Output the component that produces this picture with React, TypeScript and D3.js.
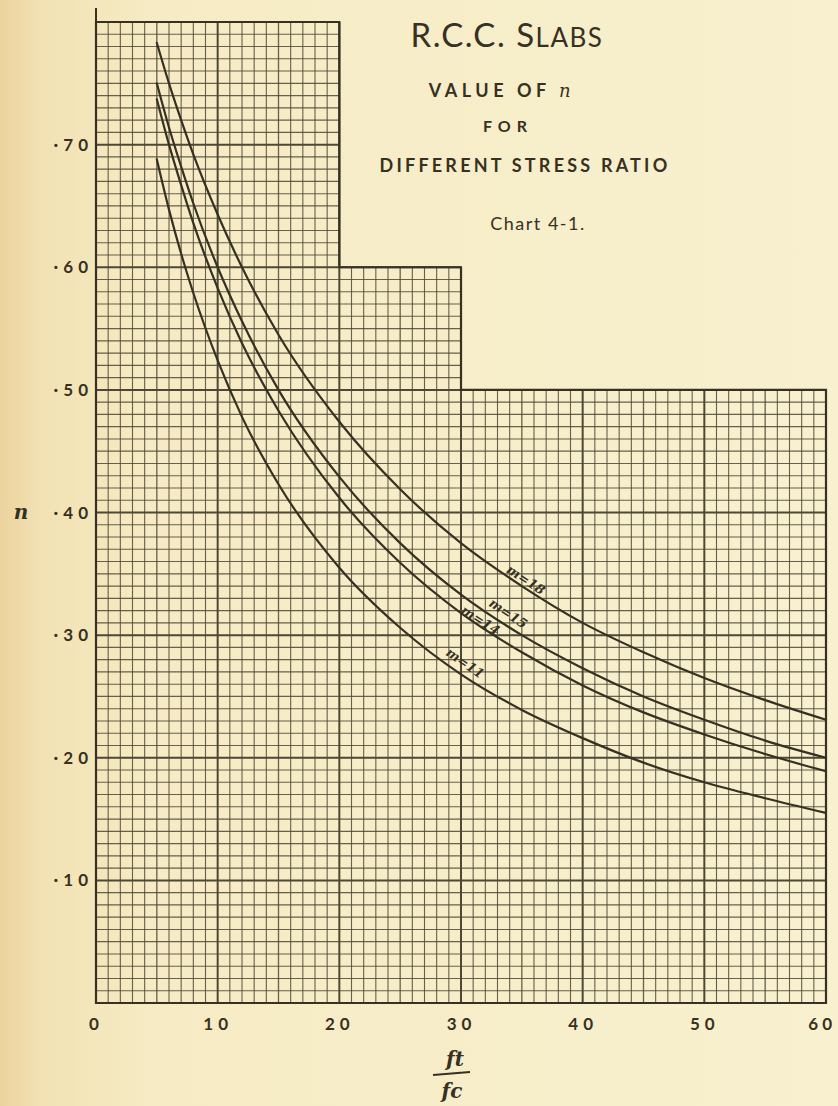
import React from "react";
import * as d3 from "d3";

// Stress ratio ft/fc sampled along each curve
const STRESS_RATIO = [5, 6, 7, 8, 10, 12, 15, 20, 25, 30, 35, 40, 45, 50, 55, 60];

// Neutral axis factor n for each modular ratio m
const N_M18 = [0.783, 0.75, 0.72, 0.692, 0.643, 0.6, 0.545, 0.474, 0.419, 0.375, 0.34, 0.31, 0.286, 0.265, 0.247, 0.231];
const N_M15 = [0.75, 0.714, 0.682, 0.652, 0.6, 0.556, 0.5, 0.429, 0.375, 0.333, 0.3, 0.273, 0.25, 0.231, 0.214, 0.2];
const N_M14 = [0.737, 0.7, 0.667, 0.636, 0.583, 0.538, 0.483, 0.412, 0.359, 0.318, 0.286, 0.259, 0.237, 0.219, 0.203, 0.189];
const N_M11 = [0.688, 0.647, 0.611, 0.579, 0.524, 0.478, 0.423, 0.355, 0.306, 0.268, 0.239, 0.216, 0.196, 0.18, 0.167, 0.155];

const CURVE_LABELS = ["m=18", "m=15", "m=14", "m=11"];
const LABEL_AT = [35.0, 33.4, 31.4, 29.8];
const LABEL_LIFT = [-3, -6, 0, -7];

const X_TICKS = [0, 10, 20, 30, 40, 50, 60];
const Y_TICKS = [0.1, 0.2, 0.3, 0.4, 0.5, 0.6, 0.7];
const Y_TICK_LABELS = ["·10", "·20", "·30", "·40", "·50", "·60", "·70"];

// Stepped top of the ruled sheet: [x from, x to, top n]
const SHEET_STEPS: [number, number, number][] = [
  [0, 20, 0.8],
  [20, 30, 0.6],
  [30, 60, 0.5],
];

const W = 838;
const H = 1106;
const INK = "#363122";
const GRID = "#4d4835";

export default function App() {
  const x = d3.scaleLinear().domain([0, 60]).range([96, 826]);
  const y = d3.scaleLinear().domain([0, 0.8]).range([1003, 22]);

  const topAt = (xv: number) => {
    for (const [a, b, t] of SHEET_STEPS) if (xv <= b + 1e-9 && xv >= a - 1e-9) return t;
    return 0.5;
  };
  const rightAt = (yv: number) => {
    let r = 0;
    for (const [, b, t] of SHEET_STEPS) if (yv <= t + 1e-9) r = Math.max(r, b);
    return r;
  };

  const vLines = d3.range(0, 61).map((v) => ({ v, major: v % 10 === 0 }));
  const hLines = d3.range(0, 81).map((i) => ({ v: i / 100, i, major: i % 10 === 0 }));

  // outline of the stepped sheet
  const outline: [number, number][] = [[0, 0], [0, 0.8]];
  SHEET_STEPS.forEach(([a, b, t], i) => {
    if (i > 0) outline.push([a, t]);
    outline.push([b, t]);
  });
  outline.push([60, 0]);
  const outlinePath = d3.line<[number, number]>().x((d) => x(d[0])).y((d) => y(d[1]))(outline) + "Z";

  const series = [N_M18, N_M15, N_M14, N_M11];
  const line = d3
    .line<number>()
    .x((_, i) => x(STRESS_RATIO[i]))
    .y((d) => y(d))
    .curve(d3.curveMonotoneX);

  const labels = series.map((vals, k) => {
    const interp = d3.scaleLinear().domain(STRESS_RATIO).range(vals);
    const xv = LABEL_AT[k];
    const px = x(xv);
    const py = y(interp(xv));
    const dx = x(xv + 1) - x(xv - 1);
    const dy = y(interp(xv + 1)) - y(interp(xv - 1));
    const ang = (Math.atan2(dy, dx) * 180) / Math.PI;
    return { text: CURVE_LABELS[k], px, py, ang, lift: LABEL_LIFT[k] };
  });

  const minorW = 1.1;
  const xSpacing = 5;
  const ySpacing = 5;

  return (
    <svg
      width={W}
      height={H}
      viewBox={`0 0 ${W} ${H}`}
      style={{ position: "absolute", left: 0, top: 0, display: "block" }}
    >
      <defs>
        <linearGradient id="paper" x1="0" x2="1" y1="0" y2="0">
          <stop offset="0" stopColor="#ebd39e" />
          <stop offset="0.05" stopColor="#f2e2b4" />
          <stop offset="0.18" stopColor="#f6ebc4" />
          <stop offset="1" stopColor="#f8f0cf" />
        </linearGradient>
      </defs>
      <rect x={0} y={0} width={W} height={H} fill="url(#paper)" />

      {/* ruled sheet */}
      <g stroke={GRID} fill="none">
        {vLines.map(({ v, major }) => (
          <line
            key={"v" + v}
            x1={x(v)}
            x2={x(v)}
            y1={y(0)}
            y2={y(topAt(v))}
            strokeWidth={major ? 2 : v % 5 === 0 ? 1.3 : minorW}
            strokeOpacity={major ? 1 : 0.85}
          />
        ))}
        {hLines.map(({ v, i, major }) => (
          <line
            key={"h" + i}
            x1={x(0)}
            x2={x(rightAt(v))}
            y1={y(v)}
            y2={y(v)}
            strokeWidth={major ? 2 : i % 5 === 0 ? 1.3 : minorW}
            strokeOpacity={major ? 1 : 0.85}
          />
        ))}
        <path d={outlinePath} stroke={INK} strokeWidth={2.2} />
        <line x1={x(0)} x2={x(0)} y1={y(0.8)} y2={y(0.8) - 14} stroke={INK} strokeWidth={2} />
      </g>

      {/* curves */}
      <g fill="none" stroke={INK} strokeWidth={2.2} strokeLinecap="round">
        {series.map((vals, k) => (
          <path key={k} d={line(vals) || ""} />
        ))}
      </g>

      {/* curve labels */}
      <g
        fill={INK}
        fontFamily="'DejaVu Serif', serif"
        fontStyle="italic"
        fontWeight={700}
        fontSize={13}
      >
        {labels.map((l) => (
          <text
            key={l.text}
            transform={`translate(${l.px},${l.py}) rotate(${l.ang}) translate(0,${l.lift})`}
            textAnchor="middle"
          >
            {l.text}
          </text>
        ))}
      </g>

      {/* axis tick labels */}
      <g fill={INK} fontFamily="Lato, 'Open Sans', sans-serif" fontWeight={700} fontSize={17}>
        {Y_TICKS.map((t, i) => (
          <text key={t} x={88 + ySpacing} y={y(t)} dy="0.36em" textAnchor="end" letterSpacing={ySpacing}>
            {Y_TICK_LABELS[i]}
          </text>
        ))}
        {X_TICKS.map((t, i) =>
          i === X_TICKS.length - 1 ? (
            <text key={t} x={836} y={1030} textAnchor="end" letterSpacing={xSpacing - 1}>
              {t}
            </text>
          ) : (
            <text key={t} x={x(t) + xSpacing / 2 - 2} y={1030} textAnchor="middle" letterSpacing={xSpacing}>
              {t}
            </text>
          )
        )}
      </g>

      {/* axis titles */}
      <text x={21} y={y(0.4)} dy="0.32em" textAnchor="middle" fill={INK}
        fontFamily="'DejaVu Serif', serif" fontStyle="italic" fontWeight={700} fontSize={20}>
        n
      </text>
      <g fill={INK} fontFamily="'DejaVu Serif', serif" fontStyle="italic" fontWeight={700} fontSize={20}>
        <text x={455} y={1066} textAnchor="middle">ft</text>
        <line x1={433} x2={470} y1={1075} y2={1072} stroke={INK} strokeWidth={2} />
        <text x={452} y={1098} textAnchor="middle">fc</text>
      </g>

      {/* title block */}
      <g fill={INK} fontFamily="Lato, 'Open Sans', sans-serif" textAnchor="middle">
        <text x={507} y={47} fontSize={33} fontWeight={400} letterSpacing={1.5}>
          R.C.C. S<tspan fontSize={26}>LABS</tspan>
        </text>
        <text x={502} y={97} fontSize={18} fontWeight={700} letterSpacing={4.5}>
          VALUE OF <tspan fontFamily="'DejaVu Serif', serif" fontStyle="italic" fontWeight={400}>n</tspan>
        </text>
        <text x={508} y={132} fontSize={16} fontWeight={700} letterSpacing={6}>
          FOR
        </text>
        <text x={525} y={172} fontSize={18} fontWeight={700} letterSpacing={3.2}>
          DIFFERENT STRESS RATIO
        </text>
        <text x={538} y={230} fontSize={18} fontWeight={400} letterSpacing={1.5}>
          Chart 4-1.
        </text>
      </g>
    </svg>
  );
}
